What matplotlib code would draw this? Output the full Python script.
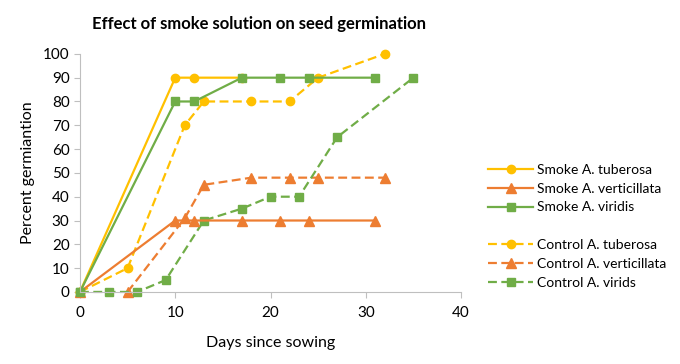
import matplotlib
matplotlib.use("Agg")
import matplotlib.pyplot as plt
from matplotlib.lines import Line2D

plt.rcParams['font.family'] = ['Lato', 'DejaVu Sans']

# data
smoke_tub_x = [0, 10, 12, 17]
smoke_tub_y = [0, 90, 90, 90]
smoke_ver_x = [0, 10, 12, 17, 21, 24, 31]
smoke_ver_y = [0, 30, 30, 30, 30, 30, 30]
smoke_vir_x = [0, 10, 12, 17, 21, 24, 31]
smoke_vir_y = [0, 80, 80, 90, 90, 90, 90]

ctrl_tub_x = [0, 5, 11, 13, 18, 22, 25, 32]
ctrl_tub_y = [0, 10, 70, 80, 80, 80, 90, 100]
ctrl_ver_x = [5, 11, 13, 18, 22, 25, 32]
ctrl_ver_y = [0, 31, 45, 48, 48, 48, 48]
ctrl_vir_x = [0, 3, 6, 9, 13, 17, 20, 23, 27, 35]
ctrl_vir_y = [0, 0, 0, 5, 30, 35, 40, 40, 65, 90]

YELLOW = '#FFC000'
ORANGE = '#ED7D31'
GREEN = '#70AD47'

fig = plt.figure(figsize=(6.8, 3.64), dpi=100)
ax = fig.add_axes([0.1176, 0.198, 0.5604, 0.654])

series = [
    (ctrl_tub_x, ctrl_tub_y, YELLOW, 'o', '--', 'Control A. tuberosa'),
    (ctrl_ver_x, ctrl_ver_y, ORANGE, '^', '--', 'Control A. verticillata'),
    (ctrl_vir_x, ctrl_vir_y, GREEN, 's', '--', 'Control A. virids'),
    (smoke_tub_x, smoke_tub_y, YELLOW, 'o', '-', 'Smoke A. tuberosa'),
    (smoke_ver_x, smoke_ver_y, ORANGE, '^', '-', 'Smoke A. verticillata'),
    (smoke_vir_x, smoke_vir_y, GREEN, 's', '-', 'Smoke A. viridis'),
]
lines = {}
for x, y, c, m, ls, lab in series:
    ms = 6.5 if m == '^' else 6
    ln, = ax.plot(x, y, color=c, marker=m, linestyle=ls, linewidth=1.6,
                  markersize=ms, clip_on=False, label=lab,
                  dashes=(4, 2) if ls == '--' else (None, None))
    lines[lab] = ln

ax.set_xlim(0, 40)
ax.set_ylim(0, 100)
ax.set_xticks(range(0, 41, 10))
ax.set_yticks(range(0, 101, 10))
for s in ['top', 'right']:
    ax.spines[s].set_visible(False)
for s in ['left', 'bottom']:
    ax.spines[s].set_color('#BFBFBF')
ax.tick_params(colors='#BFBFBF', labelcolor='black', labelsize=11, length=4)
ax.tick_params(axis='x', pad=6)

ax.set_xlabel('Days since sowing', fontsize=11.5, labelpad=12)
ax.set_ylabel('Percent germiantion', fontsize=11.5, labelpad=6)
fig.text(0.381, 0.934, 'Effect of smoke solution on seed germination',
         ha='center', va='center', fontsize=12, fontweight='bold')

blank = Line2D([], [], linestyle='none')
order = ['Smoke A. tuberosa', 'Smoke A. verticillata', 'Smoke A. viridis', None,
         'Control A. tuberosa', 'Control A. verticillata', 'Control A. virids']
handles = [lines[o] if o else blank for o in order]
labels = [o if o else '' for o in order]
fig.legend(handles, labels, loc='center left', bbox_to_anchor=(0.70, 0.378),
           frameon=False, fontsize=10, handlelength=3.2, labelspacing=0.5,
           handletextpad=0.3)

fig.savefig('out.png', dpi=100)
